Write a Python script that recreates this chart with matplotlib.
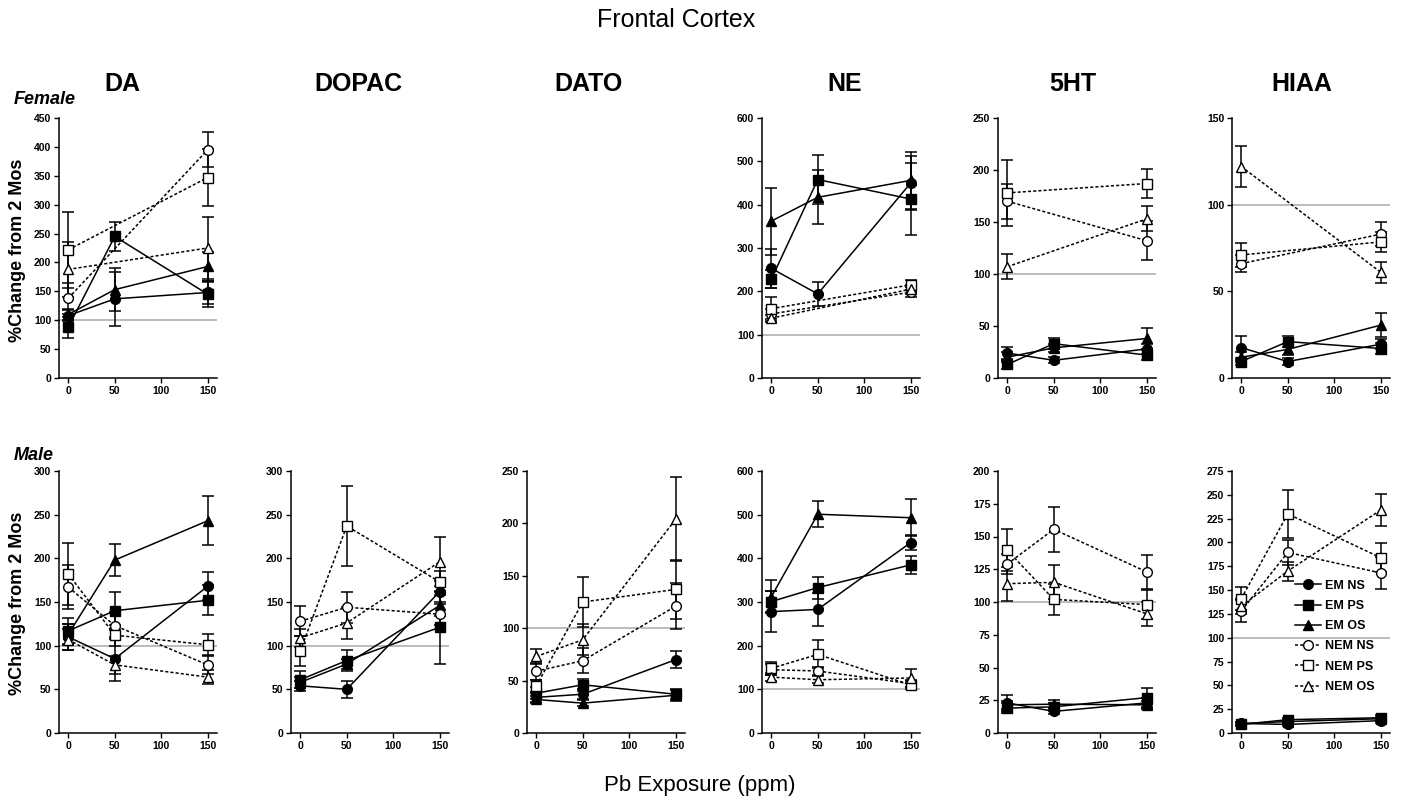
import matplotlib
matplotlib.use('Agg')
import matplotlib.pyplot as plt
import numpy as np

plt.rcParams['font.family'] = ['Liberation Sans', 'DejaVu Sans']

nan = np.nan
dose = [0, 50, 150]
series = ['EM NS', 'EM PS', 'EM OS', 'NEM NS', 'NEM PS', 'NEM OS']
columns = ['DA', 'DOPAC', 'DATO', 'NE', '5HT', 'HIAA']

# Female (NEM groups have no 50 ppm point)
da_f = [[108, 137, 148], [88, 245, 145], [110, 153, 193],
        [138, nan, 395], [222, nan, 347], [188, nan, 225]]
da_f_err = [[10, 47, 20], [18, 25, 22], [10, 37, 25],
            [27, nan, 30], [66, nan, 50], [47, nan, 53]]
ne_f = [[253, 194, 450], [228, 458, 413], [362, 417, 456],
        [148, nan, 198], [160, nan, 215], [138, nan, 205]]
ne_f_err = [[45, 28, 63], [21, 57, 84], [77, 62, 65],
            [12, nan, 12], [28, nan, 12], [8, nan, 10]]
ht_f = [[24, 17, 28], [13, 33, 22], [20, 29, 38],
        [170, nan, 132], [178, nan, 187], [107, nan, 153]]
ht_f_err = [[6, 3, 5], [4, 5, 5], [5, 4, 10],
            [17, nan, 19], [32, nan, 14], [12, nan, 12]]
hiaa_f = [[17.5, 9.5, 19.5], [9.5, 21, 17], [12, 16.5, 30.5],
          [66, nan, 83], [71, nan, 78.5], [122, nan, 61]]
hiaa_f_err = [[7, 2, 3], [2, 3, 3], [3, 3, 7],
              [5, nan, 7], [7, nan, 6], [12, nan, 6]]

# Male
da_m = [[110, 85, 168], [117, 140, 152], [113, 198, 243],
        [167, 123, 78], [182, 112, 101], [107, 78, 64]]
da_m_err = [[15, 25, 16], [15, 22, 17], [12, 18, 28],
            [25, 15, 10], [35, 12, 12], [12, 10, 8]]
dopac_m = [[54, 50, 162], [61, 83, 121], [58, 79, 146],
           [128, 144, 136], [94, 237, 173], [109, 126, 196]]
dopac_m_err = [[6, 10, 12], [10, 12, 42], [6, 6, 12],
                [17, 18, 12], [17, 46, 12], [10, 18, 28]]
dato_m = [[34, 37, 70], [38, 46, 37], [32, 28.5, 36],
          [59, 69, 121], [45, 125, 137], [73, 89, 204]]
dato_m_err = [[4, 5, 8], [6, 6, 5], [3, 3, 5],
              [8, 12, 22], [6, 24, 28], [7, 15, 40]]
ne_m = [[278, 283, 436], [301, 333, 385], [312, 501, 493],
        [145, 142, 113], [148, 180, 110], [128, 122, 126]]
ne_m_err = [[47, 38, 18], [25, 25, 20], [38, 30, 42],
            [12, 10, 8], [15, 32, 10], [10, 8, 20]]
ht_m = [[23, 16.5, 23], [19, 20, 27], [21.5, 22, 21.5],
        [129, 155.5, 123], [139.5, 102, 98], [114, 115, 91]]
ht_m_err = [[6, 2, 4], [4, 3, 7], [3, 3, 3],
            [8, 17, 13], [16, 12, 11], [13, 13, 9]]
hiaa_m = [[10, 9, 13], [9, 14, 16], [10, 12, 15],
          [128, 189.5, 168], [141, 230, 184], [133, 170, 234]]
hiaa_m_err = [[2, 2, 2], [2, 2, 3], [2, 2, 2],
              [12, 13, 17], [12, 25, 15], [8, 10, 17]]

# (column index, row, means, errors, ymax, ystep)
panels = [
    (0, 0, da_f, da_f_err, 450, 50),
    (3, 0, ne_f, ne_f_err, 600, 100),
    (4, 0, ht_f, ht_f_err, 250, 50),
    (5, 0, hiaa_f, hiaa_f_err, 150, 50),
    (0, 1, da_m, da_m_err, 300, 50),
    (1, 1, dopac_m, dopac_m_err, 300, 50),
    (2, 1, dato_m, dato_m_err, 250, 50),
    (3, 1, ne_m, ne_m_err, 600, 100),
    (4, 1, ht_m, ht_m_err, 200, 25),
    (5, 1, hiaa_m, hiaa_m_err, 275, 25),
]

styles = [
    dict(marker='o', mfc='black', ls='-'),
    dict(marker='s', mfc='black', ls='-'),
    dict(marker='^', mfc='black', ls='-'),
    dict(marker='o', mfc='white', ls=(0, (2, 1.4))),
    dict(marker='s', mfc='white', ls=(0, (2, 1.4))),
    dict(marker='^', mfc='white', ls=(0, (2, 1.4))),
]

W, H = 1408, 802
fig = plt.figure(figsize=(W / 100, H / 100), dpi=100)

col_left = [59, 291, 527, 762, 998, 1232]
head_x = [122, 358, 588, 845, 1073, 1302]
ax_w = 158
row_box = [(118, 378), (471, 733)]  # top, bottom in pixels

axes = {}
for col, row, means, errs, ymax, ystep in panels:
    top, bot = row_box[row]
    ax = fig.add_axes([col_left[col] / W, 1 - bot / H, ax_w / W, (bot - top) / H])
    axes[(col, row)] = ax
    ax.axhline(100, color='#b0b0b0', lw=1.2, zorder=1)
    for k in range(6):
        m = np.array(means[k], dtype=float)
        e = np.array(errs[k], dtype=float)
        ok = ~np.isnan(m)
        x = np.array(dose)[ok]
        st = styles[k]
        ax.errorbar(x, m[ok], yerr=e[ok], fmt='none', ecolor='black',
                    elinewidth=1.1, capsize=4, capthick=1.1, zorder=2)
        ax.plot(x, m[ok], color='black', lw=1.1, ls=st['ls'],
                marker=st['marker'], mfc=st['mfc'], mec='black',
                mew=1.0, ms=7, label=series[k], zorder=3)
    ax.set_xlim(-10, 160)
    ax.set_ylim(0, ymax)
    ax.set_xticks([0, 50, 100, 150])
    ax.set_yticks(np.arange(0, ymax + 1, ystep))
    for s in ['top', 'right']:
        ax.spines[s].set_visible(False)
    for s in ['left', 'bottom']:
        ax.spines[s].set_linewidth(1.1)
    ax.tick_params(direction='out', length=3.5, width=1.0, labelsize=7.5, pad=2)
    for lab in ax.get_xticklabels() + ax.get_yticklabels():
        lab.set_fontweight('bold')

leg = axes[(5, 1)].legend(loc='upper left', bbox_to_anchor=(0.40, 0.585),
                          frameon=False, handlelength=2.1,
                          handletextpad=0.25, labelspacing=0.66,
                          borderpad=0, borderaxespad=0,
                          prop={'size': 9, 'weight': 'bold'})

# column headings
for col, name in enumerate(columns):
    fig.text(head_x[col] / W, 1 - 84 / H, name,
             ha='center', va='center', fontsize=18, fontweight='bold')

fig.text(676 / W, 1 - 20 / H, 'Frontal Cortex', ha='center', va='center', fontsize=18)
fig.text(14 / W, 1 - 100 / H, 'Female', ha='left', va='center', fontsize=13,
         fontweight='bold', fontstyle='italic')
fig.text(14 / W, 1 - 455 / H, 'Male', ha='left', va='center', fontsize=13,
         fontweight='bold', fontstyle='italic')
fig.text(18 / W, 1 - 250 / H, '%Change from 2 Mos', ha='center', va='center',
         rotation=90, fontsize=13, fontweight='bold')
fig.text(18 / W, 1 - 603 / H, '%Change from 2 Mos', ha='center', va='center',
         rotation=90, fontsize=13, fontweight='bold')
fig.text(700 / W, 1 - 785 / H, 'Pb Exposure (ppm)', ha='center', va='center', fontsize=16)

fig.savefig('out.png', dpi=100, facecolor='white')
